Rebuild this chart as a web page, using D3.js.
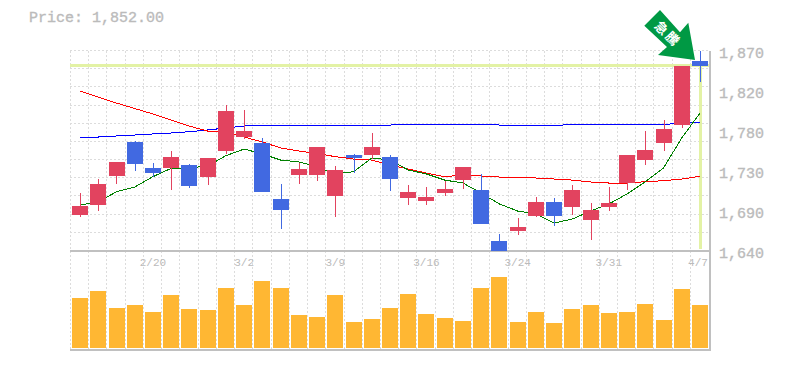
<!DOCTYPE html>
<html>
<head>
<meta charset="utf-8">
<script src="https://cdnjs.cloudflare.com/ajax/libs/d3/7.8.5/d3.min.js"></script>
<style>
    html, body { margin: 0; padding: 0; background: #fff; overflow: hidden; }
    text { font-family: "Liberation Mono", monospace; fill: #bbb; stroke: #bbb; stroke-width: 0.35px; }
    text.sign { stroke: none; }
</style>
</head>
<body>
<div id="chart"></div>
<script>
const dates = ['2/14', '2/17', '2/18', '2/19', '2/20', '2/25', '2/26', '2/27', '2/28', '3/2', '3/3', '3/4', '3/5', '3/6', '3/9', '3/10', '3/11', '3/12',
    '3/13', '3/16', '3/17', '3/18', '3/19', '3/23', '3/24', '3/25', '3/26', '3/27', '3/30', '3/31', '4/1', '4/2', '4/3', '4/6', '4/7'];
const open = [1681, 1692, 1726, 1765, 1735, 1735, 1738, 1725, 1754, 1771, 1764, 1699, 1727, 1727, 1703, 1750, 1750, 1747.5,
    1700, 1697, 1706, 1721, 1710, 1651, 1662, 1680, 1696, 1690, 1675, 1690, 1718, 1744, 1764, 1784, 1858];
const close = [1691, 1716, 1742, 1739, 1729, 1748, 1714, 1746, 1800, 1777, 1707, 1687, 1734, 1759, 1733, 1746, 1759, 1722,
    1707, 1701.5, 1711, 1736, 1670.5, 1640, 1667, 1696, 1680, 1710, 1687, 1695, 1750, 1756, 1780, 1852, 1852];
const high = [1706, 1722, 1742, 1766, 1741, 1754, 1739.5, 1746, 1807, 1802, 1769, 1716.5, 1741, 1759, 1737, 1751, 1775, 1750,
    1715, 1713, 1720, 1736, 1728, 1659, 1677, 1701.5, 1700, 1715, 1695, 1713, 1750, 1777, 1790, 1852, 1870];
const low = [1679, 1685, 1716, 1731, 1725, 1710, 1712, 1715, 1751, 1768, 1707, 1665, 1716, 1720, 1678.5, 1729, 1745, 1708,
    1692, 1692, 1703, 1711, 1670.5, 1640, 1658, 1678.5, 1668, 1681, 1652, 1685, 1710, 1738, 1754, 1781, 1834];
const volume = [50, 57, 40, 43, 36, 53, 39, 38, 60, 43, 67, 60, 33, 31, 53, 26, 29, 40,
    54, 34, 30, 27, 60, 71, 26, 36, 25, 39, 43, 35, 36, 44, 28, 59, 43];
const maShort = [1692.3, 1695.8, 1707.6, 1713, 1724.9, 1734.5, 1734.9, 1737.2, 1749, 1756.7, 1751, 1744, 1741.8, 1736.4, 1728, 1730.6, 1746.4, 1744,
    1732.6, 1728, 1721, 1717.6, 1706, 1693.5, 1685.4, 1682, 1671.6, 1676.2, 1685.4, 1693.5, 1705, 1719, 1734.9, 1769.4, 1798];
const maMid = [1823.4, 1816.5, 1809.6, 1803.3, 1797, 1790, 1783, 1777.4, 1775.7, 1770.5, 1764.8, 1757.9, 1754.4, 1751.6, 1747.9, 1745.2, 1744, 1738.3,
    1733.7, 1729.1, 1724.9, 1726.8, 1725.7, 1724.5, 1723.4, 1723.4, 1722.2, 1721, 1718.8, 1717.6, 1717.6, 1719.1, 1720.3, 1722.2, 1725.3];
const maLong = [1769.4, 1770.5, 1771.7, 1772.8, 1774, 1775.1, 1776.6, 1778.6, 1780.9, 1783.2, 1783.6, 1783.8, 1783.9, 1784, 1784.1, 1784.3, 1784.3, 1784.3,
    1784.6, 1784.7, 1784.7, 1784.7, 1784.7, 1784.3, 1783.2, 1783.8, 1783.8, 1784.9, 1784.9, 1784.9, 1784.9, 1784.9, 1784.9, 1786.6, 1787.2];
const priceTicks = [1870, 1824, 1778, 1732, 1686, 1640];
const priceLabels = ['1,870', '1,820', '1,780', '1,730', '1,690', '1,640'];
const dateLabels = ['2/20', '3/2', '3/9', '3/16', '3/24', '3/31', '4/7'];
const lastPrice = 1852;
const signText = ['急', '騰'];

const width = 785, height = 370;
const candleColor = { up: '#e2435f', down: '#4169e1' };

let svg = d3.select('#chart').append('svg')
    .attr('width', width)
    .attr('height', height)
    .style('display', 'block');

// scales
let x = d3.scaleBand()
    .domain(dates)
    .range([70.9, 709.1])
    .paddingInner(0.125)
    .paddingOuter(0.0625);
let y = d3.scaleLinear().domain([1640, 1870]).range([250.5, 50.5]);
let yVol = d3.scaleLinear().domain([0, 100]).range([348, 248]);
const xMid = function (d) { return x(d) + x.bandwidth() / 2; };
const edge = function (i) { return Math.floor(70.5 + i * x.step()) + 0.5; };

// grid
let grid = svg.append('g')
    .attr('stroke', '#dcdcdc')
    .attr('stroke-dasharray', '2,2')
    .attr('shape-rendering', 'crispEdges');
grid.selectAll('line.v')
    .data(d3.range(dates.length))
    .enter()
    .append('line')
    .attr('class', 'v')
    .attr('x1', edge)
    .attr('x2', edge)
    .attr('y1', 51)
    .attr('y2', 350);
grid.selectAll('line.h')
    .data(d3.range(11))
    .enter()
    .append('line')
    .attr('class', 'h')
    .attr('x1', 70)
    .attr('x2', 710)
    .attr('y1', function (i) { return Math.floor(50.5 + i * 200 / 11) + 0.5; })
    .attr('y2', function (i) { return Math.floor(50.5 + i * 200 / 11) + 0.5; });

// frame
let frame = svg.append('g')
    .attr('stroke', '#c0c0c0')
    .attr('stroke-width', 2)
    .attr('shape-rendering', 'crispEdges');
frame.append('line').attr('x1', 70).attr('x2', 710).attr('y1', 250.5).attr('y2', 250.5);
frame.append('line').attr('x1', 70).attr('x2', 710).attr('y1', 350).attr('y2', 350);
frame.append('line').attr('x1', 710).attr('x2', 710).attr('y1', 51).attr('y2', 351);

// last price marker
let marker = svg.append('g')
    .attr('stroke', '#e3f2a5')
    .attr('stroke-width', 3)
    .attr('shape-rendering', 'crispEdges');
marker.append('line')
    .attr('x1', 70).attr('x2', 709)
    .attr('y1', y(lastPrice) - 0.5).attr('y2', y(lastPrice) - 0.5);
marker.append('line')
    .attr('x1', xMid(dates[dates.length - 1]) + 0.5).attr('x2', xMid(dates[dates.length - 1]) + 0.5)
    .attr('y1', y(lastPrice)).attr('y2', 249);

// volume
svg.append('g')
    .selectAll('rect')
    .data(volume)
    .enter()
    .append('rect')
    .attr('x', function (d, i) { return Math.round(x(dates[i])); })
    .attr('y', function (d) { return yVol(d); })
    .attr('width', 16)
    .attr('height', function (d) { return yVol(0) - yVol(d); })
    .attr('fill', '#ffb733');

// moving averages
const maLine = d3.line()
    .x(function (d, i) { return xMid(dates[i]); })
    .y(function (d) { return y(d); });
[[maLong, '#0000ff'], [maMid, '#ff0000'], [maShort, '#008000']].forEach(function (s) {
    svg.append('path')
        .attr('d', maLine(s[0]))
        .attr('fill', 'none')
        .attr('stroke', s[1])
        .attr('shape-rendering', 'crispEdges');
});

// candles
let candles = svg.append('g')
    .attr('shape-rendering', 'crispEdges')
    .selectAll('g')
    .data(dates)
    .enter()
    .append('g')
    .attr('fill', function (d, i) { return close[i] < open[i] ? candleColor.down : candleColor.up; })
    .attr('stroke', function (d, i) { return close[i] < open[i] ? candleColor.down : candleColor.up; });
candles.append('line')
    .attr('x1', function (d) { return Math.round(xMid(d)) + 0.5; })
    .attr('x2', function (d) { return Math.round(xMid(d)) + 0.5; })
    .attr('y1', function (d, i) { return y(high[i]); })
    .attr('y2', function (d, i) { return y(low[i]); });
candles.append('rect')
    .attr('x', function (d) { return Math.round(x(d)); })
    .attr('y', function (d, i) { return y(Math.max(open[i], close[i])); })
    .attr('width', 16)
    .attr('height', function (d, i) { return Math.abs(y(open[i]) - y(close[i])); })
    .attr('stroke', 'none');

// axes
let yAxis = svg.append('g')
    .attr('transform', 'translate(719, 0)')
    .call(d3.axisRight(y)
        .tickValues(priceTicks)
        .tickSize(0)
        .tickPadding(0)
        .tickFormat(function (d, i) { return priceLabels[i]; }));
yAxis.select('.domain').remove();
yAxis.selectAll('text')
    .attr('dy', null)
    .attr('y', 7)
    .style('font-family', '"Liberation Mono", monospace')
    .style('font-size', '15px');

let xAxis = svg.append('g')
    .attr('transform', 'translate(0, 250)')
    .call(d3.axisBottom(x)
        .tickValues(dateLabels)
        .tickSize(0)
        .tickPadding(0));
xAxis.select('.domain').remove();
xAxis.selectAll('text')
    .attr('dy', null)
    .attr('y', 16)
    .attr('dx', function (d) { return d === '4/7' ? -2 : 0; })
    .style('font-family', '"Liberation Mono", monospace')
    .style('font-size', '11px')
    .style('stroke', 'none');

// title
svg.append('text')
    .attr('x', 29)
    .attr('y', 22)
    .style('font-size', '15px')
    .text('Price: ' + d3.format(',.2f')(lastPrice));

// sign over the last candle
svg.append('path')
    .attr('d', 'M660,10L644.3,25.7L667,47L658,55L695,60L688.3,22.7L680,32.3Z')
    .attr('fill', '#009944');
svg.selectAll('text.sign')
    .data(signText)
    .enter()
    .append('text')
    .attr('class', 'sign')
    .attr('transform', function (d, i) { return `translate(${661.5 + i * 11}, ${28 + i * 10.5}) rotate(45)`; })
    .attr('text-anchor', 'middle')
    .attr('dy', '0.36em')
    .style('font-family', '"Noto Sans CJK JP", sans-serif')
    .style('font-size', '13px')
    .style('font-weight', 'bold')
    .style('fill', '#fff')
    .text(function (d) { return d; });
</script>
</body>
</html>
